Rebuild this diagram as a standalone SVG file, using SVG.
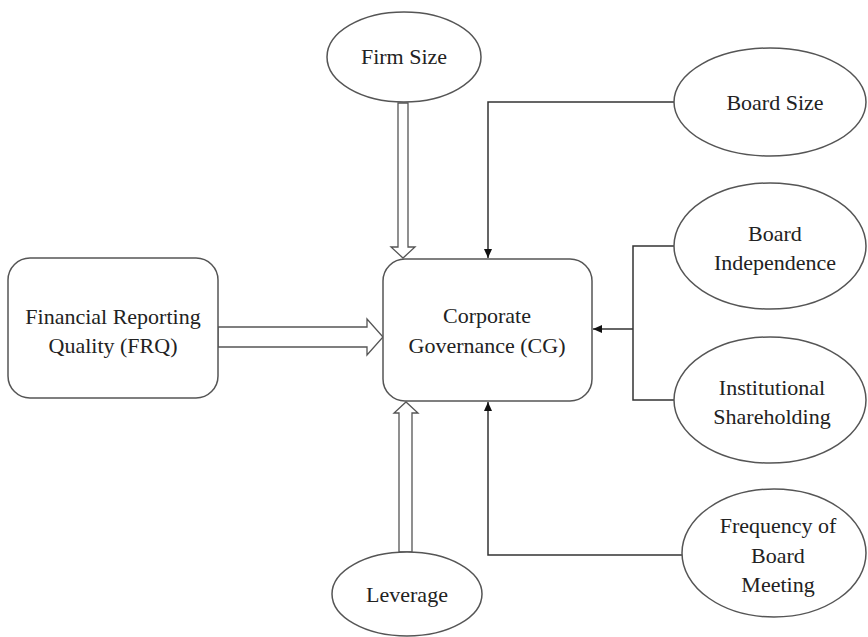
<svg xmlns="http://www.w3.org/2000/svg" width="868" height="637" viewBox="0 0 868 637">
<style>
.shape{fill:#fff;stroke:#555;stroke-width:1.5}
.line{fill:none;stroke:#333;stroke-width:1.5}
.block{fill:#fff;stroke:#555;stroke-width:1.3;stroke-linejoin:miter}
.t{font-family:'Liberation Serif','Times New Roman','DejaVu Serif',serif;font-size:22px;fill:#222;text-anchor:middle}
</style>
<defs>
<marker id="ah" markerWidth="10" markerHeight="10" refX="9" refY="5" orient="auto" markerUnits="userSpaceOnUse">
<path d="M0,1 L9,5 L0,9 Z" fill="#111"/>
</marker>
</defs>
<rect width="868" height="637" fill="#fff"/>
<g id="connectors">
<path class="line" d="M674,102 H488 V258" marker-end="url(#ah)"/>
<path class="line" d="M682,555 H488 V402" marker-end="url(#ah)"/>
<path class="line" d="M674,246 H633 V400 H674"/>
<path class="line" d="M633,329 H593" marker-end="url(#ah)"/>
<path class="block" d="M218,327 H367 V319 L383,337 L367,355 V347 H218 Z"/>
<path class="block" d="M398,103 H408 V247 H415 L403,258 L391,247 H398 Z"/>
<path class="block" d="M399,552 V413 H394 L406,402 L418,413 H412 V552 Z"/>
</g>
<g id="frq">
<rect class="shape" x="8" y="258" width="210" height="140" rx="22"/>
<text class="t" font-family="Liberation Serif, serif" x="113" y="324">Financial Reporting</text>
<text class="t" font-family="Liberation Serif, serif" x="113" y="353">Quality (FRQ)</text>
</g>
<g id="cg">
<rect class="shape" x="383" y="259" width="209" height="142" rx="22"/>
<text class="t" x="487" y="323">Corporate</text>
<text class="t" x="487" y="353">Governance (CG)</text>
</g>
<g id="firm-size">
<ellipse class="shape" cx="404" cy="57" rx="77" ry="45"/>
<text class="t" x="404" y="64">Firm Size</text>
</g>
<g id="leverage">
<ellipse class="shape" cx="407" cy="594" rx="75" ry="42"/>
<text class="t" x="407" y="602">Leverage</text>
</g>
<g id="board-size">
<ellipse class="shape" cx="770" cy="102" rx="96" ry="54"/>
<text class="t" x="775" y="110">Board Size</text>
</g>
<g id="board-independence">
<ellipse class="shape" cx="770" cy="246" rx="96" ry="63"/>
<text class="t" x="775" y="241">Board</text>
<text class="t" x="775" y="270">Independence</text>
</g>
<g id="institutional-shareholding">
<ellipse class="shape" cx="770" cy="400" rx="96" ry="63"/>
<text class="t" x="772" y="395">Institutional</text>
<text class="t" x="772" y="424">Shareholding</text>
</g>
<g id="frequency-board-meeting">
<ellipse class="shape" cx="774" cy="553" rx="92" ry="64"/>
<text class="t" x="778" y="533">Frequency of</text>
<text class="t" x="778" y="563">Board</text>
<text class="t" x="778" y="592">Meeting</text>
</g>
</svg>
